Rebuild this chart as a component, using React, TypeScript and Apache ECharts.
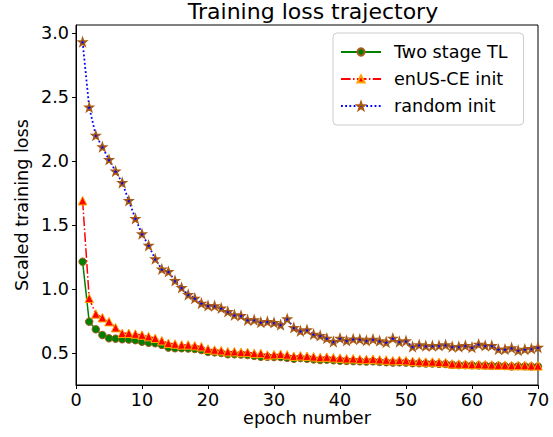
import React, { useEffect, useRef } from "react";
import * as echarts from "echarts";

const epochs: number[] = Array.from({ length: 70 }, (_, i) => i + 1);

const twoStageTL: number[] = [
  1.213, 0.745, 0.685, 0.64, 0.615, 0.612, 0.607, 0.605, 0.6, 0.588,
  0.58, 0.576, 0.563, 0.542, 0.537, 0.537, 0.535, 0.531, 0.523, 0.508,
  0.505, 0.5, 0.49, 0.49, 0.488, 0.484, 0.477, 0.47, 0.47, 0.468,
  0.468, 0.462, 0.455, 0.46, 0.455, 0.45, 0.445, 0.448, 0.443, 0.44,
  0.438, 0.436, 0.435, 0.433, 0.435, 0.43, 0.428, 0.425, 0.427, 0.425,
  0.42, 0.42, 0.418, 0.418, 0.415, 0.414, 0.408, 0.405, 0.405, 0.404,
  0.403, 0.402, 0.4, 0.4, 0.398, 0.395, 0.397, 0.396, 0.395, 0.395,
];

const enUSCEInit: number[] = [
  1.69, 0.927, 0.805, 0.776, 0.745, 0.698, 0.654, 0.654, 0.648, 0.64,
  0.628, 0.615, 0.596, 0.576, 0.57, 0.563, 0.563, 0.557, 0.549, 0.531,
  0.523, 0.518, 0.51, 0.51, 0.505, 0.505, 0.497, 0.497, 0.484, 0.487,
  0.49, 0.485, 0.475, 0.478, 0.475, 0.47, 0.465, 0.468, 0.462, 0.46,
  0.455, 0.455, 0.452, 0.45, 0.452, 0.447, 0.445, 0.44, 0.443, 0.44,
  0.435, 0.433, 0.43, 0.43, 0.427, 0.425, 0.415, 0.414, 0.413, 0.41,
  0.41, 0.408, 0.407, 0.405, 0.405, 0.402, 0.403, 0.402, 0.4, 0.4,
];

const randomInit: number[] = [
  2.93, 2.42, 2.2, 2.11, 2.01, 1.92, 1.83, 1.69, 1.55, 1.43,
  1.34, 1.235, 1.155, 1.135, 1.065, 1.01, 0.955, 0.927, 0.888, 0.87,
  0.868, 0.85, 0.823, 0.797, 0.792, 0.758, 0.758, 0.74, 0.745, 0.737,
  0.72, 0.766, 0.698, 0.672, 0.68, 0.646, 0.635, 0.615, 0.588, 0.615,
  0.596, 0.609, 0.607, 0.596, 0.607, 0.594, 0.584, 0.615, 0.588, 0.594,
  0.549, 0.563, 0.555, 0.555, 0.557, 0.563, 0.549, 0.549, 0.557, 0.544,
  0.568, 0.557, 0.557, 0.529, 0.529, 0.539, 0.52, 0.529, 0.534, 0.544,
];

const yTicks: number[] = [0.5, 1.0, 1.5, 2.0, 2.5, 3.0];

function starPath(): string {
  const pts: string[] = [];
  for (let k = 0; k < 10; k++) {
    const r = k % 2 === 0 ? 10 : 4;
    const a = (Math.PI / 5) * k - Math.PI / 2;
    pts.push(`${(10 + r * Math.cos(a)).toFixed(3)} ${(10 + r * Math.sin(a)).toFixed(3)}`);
  }
  return "path://M" + pts.join(" L") + " Z";
}

const FONT = "DejaVu Sans";

export default function App() {
  const ref = useRef<HTMLDivElement>(null);
  useEffect(() => {
    if (!ref.current) return;
    const chart = echarts.init(ref.current, undefined, { renderer: "svg" });
    const toPairs = (vals: number[]) => epochs.map((e, i) => [e, vals[i]]);
    chart.setOption({
      animation: false,
      backgroundColor: "#ffffff",
      textStyle: { fontFamily: FONT },
      title: {
        text: "Training loss trajectory",
        left: 308,
        top: -5,
        textAlign: "center",
        textStyle: { fontFamily: FONT, fontSize: 22, fontWeight: "normal", color: "#000" },
      },
      grid: {
        left: 76,
        top: 25,
        width: 462,
        height: 360,
        show: true,
        borderColor: "#000",
        borderWidth: 1,
        backgroundColor: "transparent",
      },
      legend: {
        orient: "vertical",
        left: 333,
        top: 33,
        padding: [9, 16, 9, 7],
        backgroundColor: "#fff",
        borderColor: "#cccccc",
        borderWidth: 1,
        borderRadius: 4,
        itemWidth: 40,
        itemHeight: 9,
        itemGap: 7,
        textStyle: { fontFamily: FONT, fontSize: 17.6, color: "#000", lineHeight: 20, padding: [0, 0, 0, 8] },
        data: ["Two stage TL", "enUS-CE init", "random init"],
      },
      xAxis: {
        type: "value",
        min: 0,
        max: 70,
        interval: 10,
        name: "epoch number",
        nameLocation: "middle",
        nameGap: 25,
        nameMoveOverlap: false,
        nameTextStyle: { fontFamily: FONT, fontSize: 17.6, color: "#000", lineHeight: 16 },
        axisLine: { lineStyle: { color: "#000", width: 1 } },
        axisTick: { show: true, inside: false, length: 4, lineStyle: { color: "#000" } },
        axisLabel: { fontFamily: FONT, fontSize: 17.6, color: "#000", margin: 7, lineHeight: 16 },
        splitLine: { show: false },
      },
      yAxis: {
        type: "value",
        min: 0.25,
        max: 3.0625,
        name: "Scaled training loss",
        nameLocation: "middle",
        nameGap: 45,
        nameMoveOverlap: false,
        nameTextStyle: { fontFamily: FONT, fontSize: 17.6, color: "#000" },
        axisLine: { show: true, lineStyle: { color: "#000", width: 1 } },
        axisTick: { show: true, inside: false, length: 4, lineStyle: { color: "#000" }, customValues: yTicks },
        axisLabel: {
          fontFamily: FONT,
          fontSize: 17.6,
          color: "#000",
          margin: 7,
          customValues: yTicks,
          formatter: (v: number) => v.toFixed(1),
        },
        splitLine: { show: false },
      },
      series: [
        {
          name: "Two stage TL",
          type: "line",
          data: toPairs(twoStageTL),
          symbol: "circle",
          symbolSize: 7.5,
          showAllSymbol: true,
          lineStyle: { color: "#008000", width: 1.5 },
          itemStyle: { color: "#008000", borderColor: "#a8581c", borderWidth: 1 },
          z: 2,
        },
        {
          name: "enUS-CE init",
          type: "line",
          data: toPairs(enUSCEInit),
          symbol: "triangle",
          symbolSize: 8.5,
          showAllSymbol: true,
          lineStyle: { color: "#ff0000", width: 1.5, type: [9.6, 2.4, 1.5, 2.4] },
          itemStyle: { color: "#ff0000", borderColor: "#ffa500", borderWidth: 1 },
          z: 3,
        },
        {
          name: "random init",
          type: "line",
          data: toPairs(randomInit),
          symbol: starPath(),
          symbolSize: 8,
          showAllSymbol: true,
          lineStyle: { color: "#0000ff", width: 1.8, type: [1.8, 2.4] },
          itemStyle: { color: "#0000ff", borderColor: "#a85a14", borderWidth: 1.5 },
          z: 4,
        },
      ],
    });
    return () => chart.dispose();
  }, []);
  return (
    <div
      ref={ref}
      style={{ position: "fixed", left: 0, top: 0, width: 553, height: 437, background: "#fff" }}
    />
  );
}
